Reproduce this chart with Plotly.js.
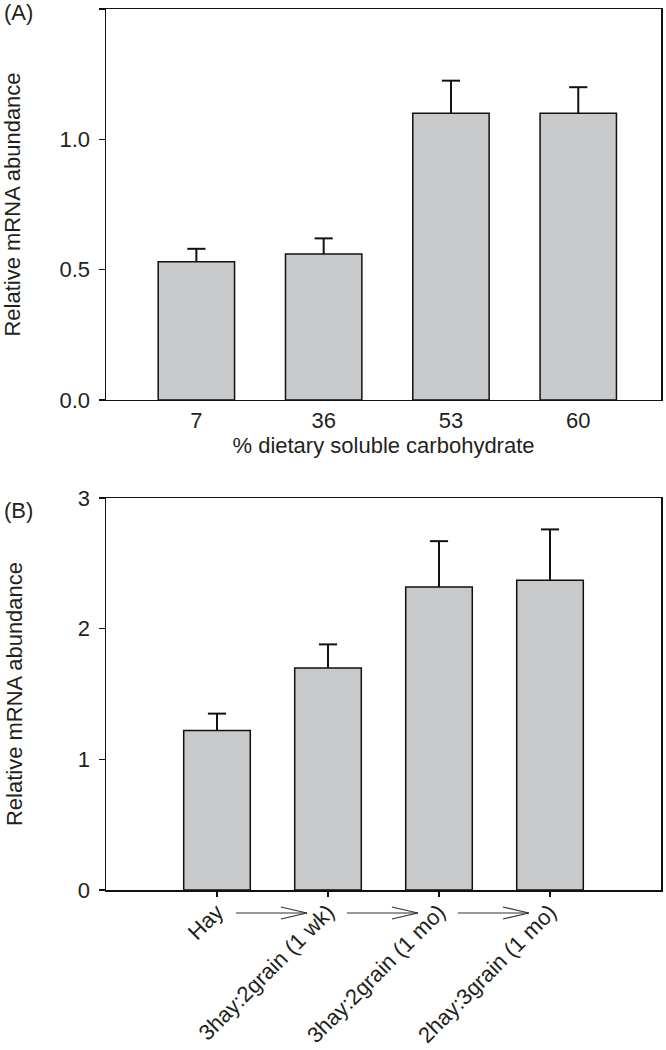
<!DOCTYPE html>
<html><head><meta charset="utf-8">
<script src="https://cdn.plot.ly/plotly-3.0.1.min.js"></script>
<style>body{margin:0;background:#fff}#chart{width:666px;height:1050px}</style>
</head><body><div id="chart"></div>
<script>
// Panel A data
const catsA = ['7', '36', '53', '60'];
const valsA = [0.53, 0.56, 1.10, 1.10];
const errA = [0.05, 0.06, 0.125, 0.10];
// Panel B data
const catsB = ['Hay', '3hay:2grain (1 wk)', '3hay:2grain (1 mo)', '2hay:3grain (1 mo)'];
const valsB = [1.22, 1.70, 2.32, 2.37];
const errB = [0.13, 0.18, 0.35, 0.39];

const FONT = '"Liberation Sans", Arial, sans-serif';
const TXT = '#231f20';
const FS = 22;
const barStyle = {color: '#c8c9cb', line: {color: '#111', width: 1.5}};

function barTrace(cats, vals, xa, ya) {
  return {type: 'bar', x: cats, y: vals, xaxis: xa, yaxis: ya, width: 0.6,
          marker: barStyle, hoverinfo: 'x+y'};
}
// upward-only error bars: cap marker at top, stem drawn down to bar top
function errTrace(cats, vals, errs, xa, ya) {
  return {type: 'scatter', mode: 'markers', x: cats, y: vals.map((v, i) => v + errs[i]),
          xaxis: xa, yaxis: ya, cliponaxis: false,
          marker: {symbol: 'line-ew', size: 13, color: '#111', line: {color: '#111', width: 2}},
          error_y: {type: 'data', symmetric: false, array: errs.map(() => 0), arrayminus: errs,
                    visible: true, color: '#111', thickness: 2, width: 0},
          hoverinfo: 'skip'};
}

const traces = [
  barTrace(catsA, valsA, 'x', 'y'),
  errTrace(catsA, valsA, errA, 'x', 'y'),
  barTrace(catsB, valsB, 'x2', 'y2'),
  errTrace(catsB, valsB, errB, 'x2', 'y2')
];

const axisBase = {showline: true, linecolor: '#111', linewidth: 1.5, mirror: true,
  showgrid: false, zeroline: false, tickfont: {family: FONT, size: FS, color: TXT}};

const rangeA = [-0.71, 3.65];
const rangeB = [-1, 4];
const fracB = c => (c - rangeB[0]) / (rangeB[1] - rangeB[0]);

// arrows between category labels of panel B (decoration)
const shapes = [];
const ARW_Y = -23;
for (let i = 0; i < catsB.length - 1; i++) {
  const ln = {type: 'line', xref: 'x2 domain', yref: 'y2 domain', ysizemode: 'pixel', yanchor: 0,
              line: {color: '#333', width: 1.2}};
  const tip = fracB(i + 0.81);
  shapes.push(Object.assign({}, ln, {x0: fracB(i + 0.17), x1: tip, y0: ARW_Y, y1: ARW_Y}));
  shapes.push(Object.assign({}, ln, {xsizemode: 'pixel', xanchor: tip, x0: 0, x1: -26, y0: ARW_Y, y1: ARW_Y + 6}));
  shapes.push(Object.assign({}, ln, {xsizemode: 'pixel', xanchor: tip, x0: 0, x1: -26, y0: ARW_Y, y1: ARW_Y - 6}));
}

const layout = {
  width: 666, height: 1050,
  margin: {l: 106, r: 5, t: 9, b: 160},
  paper_bgcolor: '#fff', plot_bgcolor: '#fff',
  showlegend: false,
  font: {family: FONT, size: FS, color: TXT},
  xaxis: Object.assign({}, axisBase, {domain: [0, 1], anchor: 'y', type: 'category',
    range: rangeA, ticks: '', ticklabelstandoff: 0,
    title: {text: '% dietary soluble carbohydrate', font: {family: FONT, size: FS, color: TXT}, standoff: 5}}),
  yaxis: Object.assign({}, axisBase, {domain: [0.5562, 1], anchor: 'x', range: [0, 1.5],
    tickvals: [0, 0.5, 1.0, 1.5], ticktext: ['0.0', '0.5', '1.0', '1.5'],
    ticks: 'outside', ticklen: 6, tickwidth: 1.5, tickcolor: '#111', ticklabelstandoff: 4,
    title: {text: 'Relative mRNA abundance', font: {family: FONT, size: FS, color: TXT}, standoff: 33}}),
  xaxis2: Object.assign({}, axisBase, {domain: [0, 1], anchor: 'y2', type: 'category',
    range: rangeB, ticks: 'outside', ticklen: 5, tickwidth: 1.5, tickcolor: '#111',
    tickangle: -45, ticklabelstandoff: -6}),
  yaxis2: Object.assign({}, axisBase, {domain: [0, 0.4449], anchor: 'x2', range: [0, 3],
    tickvals: [0, 1, 2, 3], ticks: 'outside', ticklen: 6, tickwidth: 1.5, tickcolor: '#111',
    ticklabelstandoff: 4,
    title: {text: 'Relative mRNA abundance', font: {family: FONT, size: FS, color: TXT}, standoff: 49}}),
  shapes: shapes,
  annotations: [
    {text: '(A)', xref: 'paper', yref: 'paper', x: -0.187, y: 0.996, xanchor: 'left', yanchor: 'middle',
     showarrow: false, font: {family: FONT, size: FS, color: TXT}},
    {text: '(B)', xref: 'paper', yref: 'paper', x: -0.187, y: 0.4313, xanchor: 'left', yanchor: 'middle',
     showarrow: false, font: {family: FONT, size: FS, color: TXT}}
  ]
};

Plotly.newPlot('chart', traces, layout, {displayModeBar: false, staticPlot: true});
</script>
</body></html>
